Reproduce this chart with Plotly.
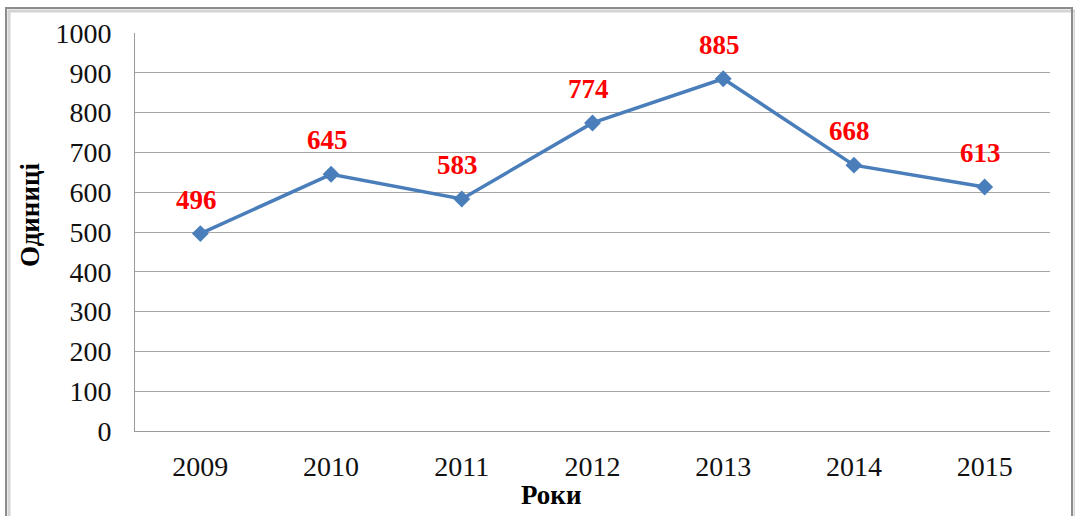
import plotly.graph_objects as go

years = ["2009", "2010", "2011", "2012", "2013", "2014", "2015"]
values = [496, 645, 583, 774, 885, 668, 613]
y_ticks = [0, 100, 200, 300, 400, 500, 600, 700, 800, 900, 1000]

W, H = 1075, 516
L, R, T, B = 135, 25, 33, 85
pw, ph = W - L - R, H - T - B

def px_x(px):
    return (px - L) / pw

def px_y(py):
    return (H - B - py) / ph

font = "Liberation Serif, Times New Roman, serif"

fig = go.Figure()
fig.add_trace(go.Scatter(
    x=years, y=values, mode="lines+markers",
    line=dict(color="#4A7EBB", width=3.5),
    marker=dict(symbol="diamond", size=13, color="#4A7EBB"),
    showlegend=False, hoverinfo="x+y",
))

for i, v in enumerate(values):
    fig.add_annotation(x=i, y=v, xref="x", yref="y", text=f"<b>{v}</b>",
                       showarrow=False, yshift=34, xshift=-4,
                       xanchor="center", yanchor="middle",
                       font=dict(family=font, size=27, color="#FF0000"))

# axis titles
fig.add_annotation(x=px_x(30), y=px_y(215), xref="paper", yref="paper",
                   text="<b>Одиниці</b>", textangle=-90, showarrow=False,
                   xanchor="center", yanchor="middle",
                   font=dict(family=font, size=27, color="black"))
fig.add_annotation(x=px_x(551), y=px_y(495), xref="paper", yref="paper",
                   text="<b>Роки</b>", showarrow=False,
                   xanchor="center", yanchor="middle",
                   font=dict(family=font, size=27, color="black"))

# outer chart border with shadow
fig.add_shape(type="rect", xref="paper", yref="paper",
              x0=px_x(9), x1=px_x(1075), y0=px_y(530), y1=px_y(11),
              line=dict(color="#D4D4D4", width=3), layer="below")
fig.add_shape(type="rect", xref="paper", yref="paper",
              x0=px_x(6), x1=px_x(1072), y0=px_y(527), y1=px_y(8),
              line=dict(color="#8C8C8C", width=2), layer="below")

fig.update_layout(
    width=W, height=H,
    margin=dict(l=L, r=R, t=T, b=B),
    paper_bgcolor="white", plot_bgcolor="white",
    font=dict(family=font, size=28, color="black"),
    xaxis=dict(
        type="category", range=[-0.5, 6.5],
        showgrid=False, showline=True, linecolor="#9A9A9A", linewidth=1,
        ticks="", tickfont=dict(size=28, color="#111111"), ticklabelstandoff=10,
        fixedrange=True,
    ),
    yaxis=dict(
        range=[0, 1000], tickvals=y_ticks,
        showgrid=True, gridcolor="#A6A6A6", gridwidth=1,
        showline=True, linecolor="#9A9A9A", linewidth=1,
        zeroline=False, ticks="", tickfont=dict(size=28, color="#111111"),
        ticklabelstandoff=17,
        fixedrange=True,
    ),
)

fig.write_html("out.html", config={"displayModeBar": False},
               post_script="document.body.style.margin='0';")
